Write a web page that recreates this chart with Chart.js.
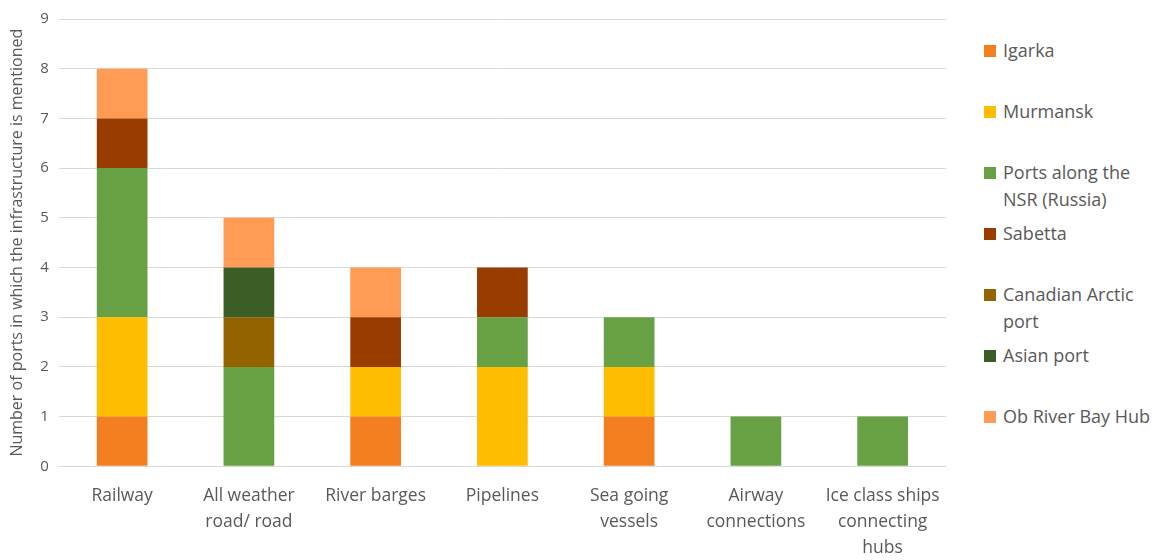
<!DOCTYPE html>
<html>
<head>
<meta charset="utf-8">
<script src="https://cdn.jsdelivr.net/npm/chart.js@4.4.1/dist/chart.umd.min.js"></script>
<style>
body{margin:0;background:#fff;}
#wrap{position:relative;width:1167px;height:560px;overflow:hidden;}
#box{position:absolute;left:0;top:0;width:952px;height:570px;}
#legend{position:absolute;left:984px;top:0;width:183px;font-family:"Open Sans",sans-serif;font-size:18px;color:#595959;}
.item{position:absolute;left:0;line-height:27px;white-space:nowrap;}
.item span.sq{position:absolute;left:0;top:8px;width:12px;height:12px;}
.item span.tx{display:block;padding-left:19px;}
</style>
</head>
<body>
<div id="wrap">
<div id="box"><canvas id="myChart"></canvas></div>
<div id="legend"></div>
</div>
<script>
var categories=[["Railway"],["All weather","road/ road"],["River barges"],["Pipelines"],["Sea going","vessels"],["Airway","connections"],["Ice class ships","connecting","hubs"]];
var seriesNames=["Igarka","Murmansk","Ports along the NSR (Russia)","Sabetta","Canadian Arctic port","Asian port","Ob River Bay Hub"];
var legendLines=[["Igarka"],["Murmansk"],["Ports along the","NSR (Russia)"],["Sabetta"],["Canadian Arctic","port"],["Asian port"],["Ob River Bay Hub"]];
var colors=["#F47F20","#FFBD00","#68A044","#993C00","#936300","#3B5E27","#FF9B55"];
var igarka=[1,0,1,0,1,0,0];
var murmansk=[2,0,1,2,1,0,0];
var portsNSR=[3,2,0,1,1,1,1];
var sabetta=[1,0,1,1,0,0,0];
var canadian=[0,1,0,0,0,0,0];
var asian=[0,1,0,0,0,0,0];
var obRiver=[1,1,1,0,0,0,0];
var values=[igarka,murmansk,portsNSR,sabetta,canadian,asian,obRiver];
var yTicks=[0,1,2,3,4,5,6,7,8,9];

var datasets=[];
for(var i=0;i<seriesNames.length;i++){
  datasets.push({
    label:seriesNames[i],
    data:values[i],
    backgroundColor:colors[i],
    borderWidth:0,
    barPercentage:0.4,
    categoryPercentage:1
  });
}

// html legend
var leg=document.getElementById("legend");
var txt="";
for(var i=0;i<legendLines.length;i++){
  txt+="<div class='item' style='top:"+(37+i*61)+"px'><span class='sq' style='background:"+colors[i]+"'></span><span class='tx'>"+legendLines[i].join("<br>")+"</span></div>";
}
leg.innerHTML=txt;

const config={
  type:'bar',
  data:{labels:categories,datasets:datasets},
  options:{
    responsive:true,
    maintainAspectRatio:false,
    animation:false,
    layout:{padding:{top:3,right:6,left:8,bottom:0}},
    plugins:{legend:{display:false},tooltip:{enabled:false}},
    scales:{
      x:{
        stacked:true,
        grid:{display:false},
        border:{display:false},
        ticks:{color:"#595959",font:{family:"Open Sans",size:17.5,lineHeight:1.48},maxRotation:0,autoSkip:false,padding:9}
      },
      y:{
        stacked:true,
        min:0,max:9,
        afterBuildTicks:function(axis){axis.ticks=yTicks.map(function(v){return {value:v};});},
        grid:{color:"#D9D9D9",lineWidth:1,drawTicks:false},
        border:{display:false},
        ticks:{color:"#595959",font:{family:"Open Sans",size:15},padding:10},
        title:{display:true,text:"Number of ports in which the infrastructure is mentioned",color:"#595959",font:{family:"Open Sans",size:16},padding:{top:0,bottom:3}}
      }
    }
  }
};
const myChart=new Chart(document.getElementById('myChart'),config);
</script>
</body>
</html>
